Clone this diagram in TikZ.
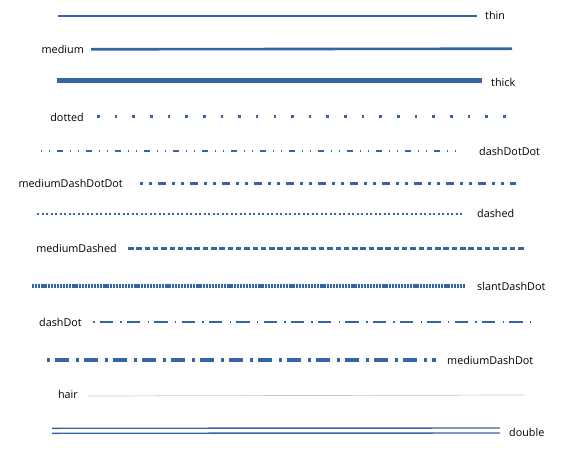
\documentclass[tikz,border=0pt]{standalone}
\usepackage{fontspec}
\setmainfont{Open Sans}
\definecolor{lc}{RGB}{52,101,164}
\begin{document}
\begin{tikzpicture}[x=1pt,y=-1pt,
  lbl/.style={font=\fontsize{10.8}{13}\selectfont, inner sep=0pt, text=black},
  ln/.style={draw=lc, line cap=butt}]
\useasboundingbox (0,0) rectangle (577,454);
% thin
\coordinate (a1) at (58,16); \coordinate (a2) at (477,16);
\draw[ln, line width=1.2pt] (a1) -- (a2);
\node[lbl, anchor=west] (l1) at (485,15) {thin};
% medium
\coordinate (b1) at (91,49.3); \coordinate (b2) at (512,48.7);
\draw[ln, line width=2.6pt] (b1) -- (b2);
\node[lbl, anchor=east] (l2) at (84,49) {medium};
% thick
\coordinate (c1) at (57,81); \coordinate (c2) at (482,81);
\draw[ln, line width=5pt] (c1) -- (c2);
\node[lbl, anchor=west] (l3) at (491,82) {thick};
% dotted
\coordinate (d1) at (97,117); \coordinate (d2) at (506,117);
\draw[ln, line width=3pt, dash pattern=on 2.6pt off 15.05pt] (d1) -- (d2);
\node[lbl, anchor=east] (l4) at (84,117) {dotted};
% dashDotDot
\coordinate (e1) at (41,151); \coordinate (e2) at (463,151);
\draw[ln, line width=1.1pt, dash pattern=on 1pt off 7pt on 1pt off 7pt on 6pt off 7pt] (e1) -- (e2);
\node[lbl, anchor=west] (l5) at (479,151) {dashDotDot};
% mediumDashDotDot
\coordinate (f1) at (140,184); \coordinate (f2) at (516,184);
\draw[ln, line width=3pt, dash pattern=on 3pt off 6.3pt on 3pt off 5.7pt on 7.5pt off 6.5pt] (f1) -- (f2);
\node[lbl, anchor=east] (l6) at (123,183) {mediumDashDotDot};
% dashed
\coordinate (g1) at (37,214); \coordinate (g2) at (464,214);
\draw[ln, line width=1.1pt, dash pattern=on 2.4pt off 2.1pt] (g1) -- (g2);
\node[lbl, anchor=west] (l7) at (477,213) {dashed};
% mediumDashed
\coordinate (h1) at (128,248); \coordinate (h2) at (525,248);
\draw[ln, line width=3pt, dash pattern=on 5.5pt off 2.8pt] (h1) -- (h2);
\node[lbl, anchor=east] (l8) at (117,248) {mediumDashed};
% slantDashDot
\coordinate (i1) at (32,286); \coordinate (i2) at (465,286);
\draw[ln, line width=3.5pt, dash pattern=on 2.2pt off 0.9pt] (i1) -- (i2);
\node[lbl, anchor=west] (l9) at (477,286) {slantDashDot};
% dashDot
\coordinate (j1) at (93,322); \coordinate (j2) at (532,322);
\draw[ln, line width=1.2pt, dash pattern=on 1.5pt off 5.2pt on 13.3pt off 7.3pt] (j1) -- (j2);
\node[lbl, anchor=east] (l10) at (82,322) {dashDot};
% mediumDashDot
\coordinate (k1) at (47,360); \coordinate (k2) at (436,360);
\draw[ln, line width=3.5pt, dash pattern=on 3pt off 5.3pt on 13.3pt off 7.4pt] (k1) -- (k2);
\node[lbl, anchor=west] (l11) at (447,360) {mediumDashDot};
% hair
\coordinate (m1) at (88,396); \coordinate (m2) at (524,395);
\draw[draw=lc!35, line width=0.7pt] (m1) -- (m2);
\node[lbl, anchor=east] (l12) at (78,394) {hair};
% double
\coordinate (n1) at (52,428.3); \coordinate (n2) at (500,428);
\coordinate (n3) at (52,433.3); \coordinate (n4) at (500,433);
\draw[ln, line width=1.4pt] (n1) -- (n2);
\draw[ln, line width=1.4pt] (n3) -- (n4);
\node[lbl, anchor=west] (l13) at (509,432) {double};
\end{tikzpicture}
\end{document}
